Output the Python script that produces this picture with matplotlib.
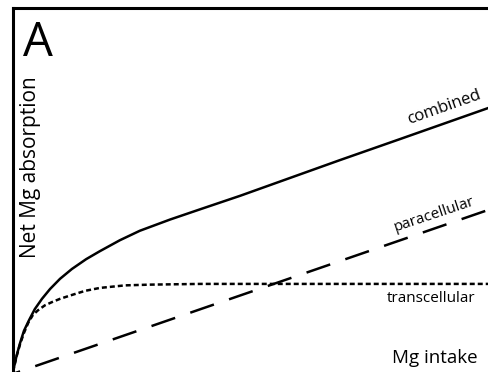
import matplotlib.pyplot as plt

# values (intake 0-10, absorption in arbitrary units 0-10)
intake = [0.0, 0.04, 0.08, 0.15, 0.23, 0.34, 0.46, 0.61, 0.78, 0.99, 1.24,
          1.54, 1.83, 2.25, 2.67, 3.31, 3.94, 4.78, 5.83, 6.88, 8.15, 10.0]
combined = [0.0, 0.25, 0.47, 0.80, 1.13, 1.43, 1.73, 2.01, 2.28, 2.56, 2.83,
            3.10, 3.32, 3.62, 3.88, 4.19, 4.47, 4.84, 5.33, 5.82, 6.40, 7.25]

trans_x = [0.0, 0.04, 0.08, 0.15, 0.23, 0.32, 0.42, 0.53, 0.67, 0.82, 0.99,
           1.20, 1.52, 1.83, 2.36, 2.88, 3.94, 10.0]
transcellular = [0.0, 0.23, 0.45, 0.77, 1.07, 1.35, 1.57, 1.70, 1.83, 1.92, 2.01,
                 2.10, 2.23, 2.31, 2.38, 2.40, 2.42, 2.42]

para_x = [0.0, 10.0]
paracellular = [-0.05, 4.45]

W, H = 488, 372


def px(x, y):
    # pixel position (from top-left) to figure fraction
    return x / W, 1 - y / H


fig = plt.figure(figsize=(W / 100, H / 100), dpi=100)
plt.rcParams['font.family'] = ['Open Sans', 'DejaVu Sans']

ax = fig.add_axes([13 / W, 0, (W - 13) / W, (H - 8) / H])
ax.plot(intake, combined, color='black', lw=1.8)
ax.plot(trans_x, transcellular, color='black', lw=1.8, linestyle=(0, (2.0, 1.2)))
ax.plot(para_x, paracellular, color='black', lw=1.8, linestyle=(8, (10, 6.4)))

ax.set_xlim(0, 10)
ax.set_ylim(0, 10)
ax.set_xticks([])
ax.set_yticks([])
ax.spines['right'].set_visible(False)
ax.spines['bottom'].set_visible(False)
ax.spines['top'].set_linewidth(2.2)
ax.spines['left'].set_linewidth(2.2)

fig.text(*px(23, 56), 'A', fontsize=34, ha='left', va='baseline')
fig.text(*px(31, 167), 'Net Mg absorption', fontsize=15, rotation=90,
         ha='center', va='center')
fig.text(*px(444, 107), 'combined', fontsize=12, rotation=19.5,
         ha='center', va='center')
fig.text(*px(434, 215), 'paracellular', fontsize=11, rotation=18.5,
         ha='center', va='center')
fig.text(*px(431, 299), 'transcellular', fontsize=11, ha='center', va='center')
fig.text(*px(435, 358), 'Mg intake', fontsize=13.5, ha='center', va='center')

fig.savefig('out.png', dpi=100)
